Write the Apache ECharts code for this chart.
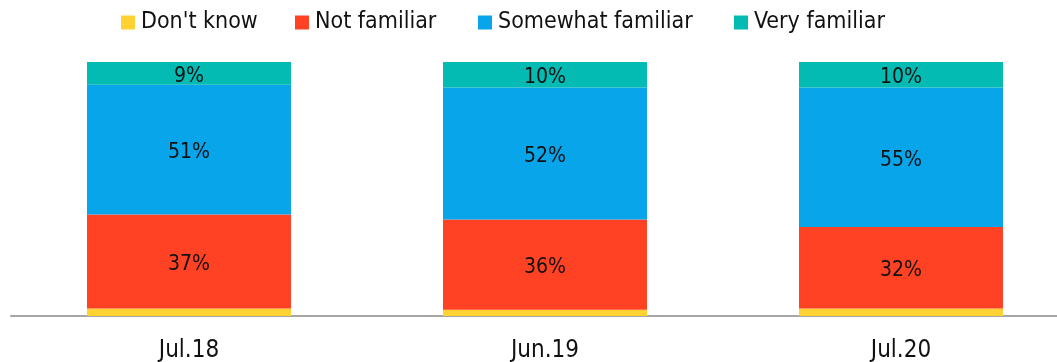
<!DOCTYPE html>
<html>
<head>
<meta charset="utf-8">
<script src="https://cdn.jsdelivr.net/npm/echarts@6/dist/echarts.min.js"></script>
<style>
html,body{margin:0;padding:0;background:#fff;}
#chart{width:1057px;height:362px;}
</style>
</head>
<body>
<div id="chart"></div>
<script>
var categories = ['Jul.18', 'Jun.19', 'Jul.20'];
var dontKnow = [3, 2.5, 3];
var notFamiliar = [37, 35.5, 32];
var somewhatFamiliar = [51, 52, 55];
var veryFamiliar = [9, 10, 10];
var seriesNames = ["Don't know", 'Not familiar', 'Somewhat familiar', 'Very familiar'];
var colors = ['#FED232', '#FF4124', '#09A5EB', '#04BBB3'];

var FONT = 'DejaVu Sans Condensed';
var chart = echarts.init(document.getElementById('chart'), null, {renderer: 'canvas'});

function labelFmt(p) { return Math.round(p.value) + '%'; }

var legendLefts = [121, 295, 478, 734];
var legends = seriesNames.map(function (n, i) {
  return {
    data: [n],
    left: legendLefts[i],
    top: 11,
    padding: 0,
    itemWidth: 14,
    itemHeight: 14,
    itemGap: 0,
    icon: 'rect',
    textStyle: {fontFamily: FONT, fontSize: 23, color: '#111', padding: [0, 0, 0, 1]},
    selectedMode: false
  };
});

var allData = [dontKnow, notFamiliar, somewhatFamiliar, veryFamiliar];
var series = seriesNames.map(function (n, i) {
  return {
    name: n,
    type: 'bar',
    stack: 'total',
    barWidth: 204,
    data: allData[i],
    itemStyle: {color: colors[i]},
    label: {
      show: i > 0,
      position: 'inside',
      formatter: labelFmt,
      fontFamily: FONT,
      fontSize: 21,
      color: '#111',
      offset: [0, 3]
    },
    emphasis: {disabled: true}
  };
});

chart.setOption({
  animation: false,
  color: colors,
  legend: legends,
  grid: {left: 11, right: -22, top: 62, bottom: 46, containLabel: false, outerBoundsMode: 'none'},
  xAxis: {
    type: 'category',
    data: categories,
    axisLine: {show: true, lineStyle: {color: '#a6a6a6', width: 2}},
    axisTick: {show: false},
    axisLabel: {fontFamily: FONT, fontSize: 24, color: '#111', margin: 23}
  },
  yAxis: {
    type: 'value',
    min: 0,
    max: 100,
    show: false,
    splitLine: {show: false}
  },
  series: series
});
</script>
</body>
</html>
